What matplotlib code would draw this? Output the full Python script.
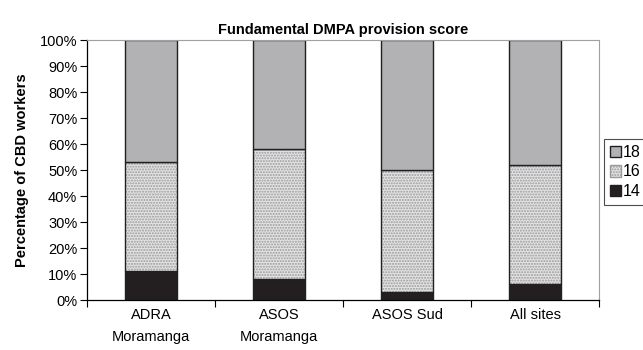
import matplotlib.pyplot as plt
import numpy as np
from matplotlib.patches import Patch

plt.rcParams["font.family"] = ["Liberation Sans", "DejaVu Sans"]

sites = ["ADRA\nMoramanga", "ASOS\nMoramanga", "ASOS Sud", "All sites"]
score_14 = [11, 8, 3, 6]
score_16 = [42, 50, 47, 46]
score_18 = [47, 42, 50, 48]

yticks = np.arange(0, 101, 10)

fig = plt.figure(figsize=(6.43, 3.5), dpi=100)
ax = fig.add_axes([87 / 643, 50 / 350, 512 / 643, 260 / 350])

x = np.arange(len(sites))
w = 0.41
b16 = np.array(score_14)
b18 = b16 + np.array(score_16)

ax.bar(x, score_14, w, color="#231f20", edgecolor="#231f20", linewidth=1)
ax.bar(x, score_16, w, bottom=b16, color="#e4e4e4", edgecolor="#9a9a9a",
       hatch="......", linewidth=0)
ax.bar(x, score_16, w, bottom=b16, fill=False, edgecolor="#231f20", linewidth=1)
ax.bar(x, score_18, w, bottom=b18, color="#b2b2b5", edgecolor="#231f20", linewidth=1)

ax.set_xlim(-0.5, len(sites) - 0.5)
ax.set_ylim(0, 100)
ax.set_yticks(yticks)
ax.set_yticklabels([f"{v}%" for v in yticks], fontsize=10.5)
ax.set_xticks(np.arange(len(sites) + 1) - 0.5, minor=False)
ax.set_xticklabels([])
ax.set_xticks(x, minor=True)
ax.set_xticklabels(sites, minor=True, fontsize=10.5, linespacing=1.7)
ax.tick_params(axis="x", which="minor", length=0, pad=6)
ax.tick_params(axis="x", which="major", length=5, direction="out")
ax.tick_params(axis="y", length=5, direction="out", pad=2)

for s in ["top", "right"]:
    ax.spines[s].set_color("#a0a0a0")
    ax.spines[s].set_linewidth(0.8)
ax.spines["left"].set_linewidth(0.9)
ax.spines["bottom"].set_linewidth(0.9)

ax.set_title("Fundamental DMPA provision score", fontsize=10.5, fontweight="bold", pad=4)
ax.set_ylabel("Percentage of CBD workers", fontsize=10.5, fontweight="bold", labelpad=8)

handles = [
    Patch(facecolor="#b2b2b5", edgecolor="#231f20", label="18"),
    Patch(facecolor="#e4e4e4", edgecolor="#9a9a9a", hatch="......", label="16"),
    Patch(facecolor="#231f20", edgecolor="#231f20", label="14"),
]
leg = fig.legend(handles=handles, loc="center left", bbox_to_anchor=(604 / 643, 1 - 172 / 350),
                 fontsize=11.5, frameon=True, fancybox=False, handlelength=0.7,
                 handleheight=0.7, handletextpad=0.1, borderpad=0.35, labelspacing=0.3,
                 borderaxespad=0)
leg.get_frame().set_edgecolor("#231f20")
leg.get_frame().set_linewidth(0.8)

fig.savefig("out.png", dpi=100)
